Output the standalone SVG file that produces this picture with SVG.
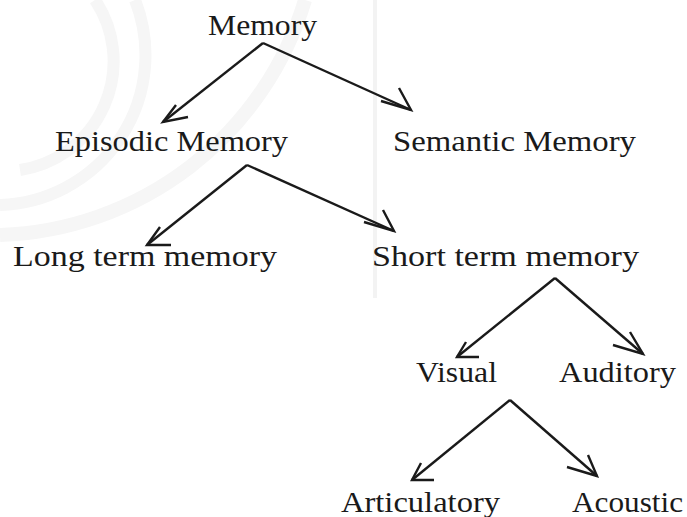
<svg xmlns="http://www.w3.org/2000/svg" width="687" height="517" viewBox="0 0 687 517">
  <style>
    .label { font-family: "Liberation Serif", "Times New Roman", serif; font-size: 29px; fill: #1a1a1a; }
    .edge { fill: none; stroke: #1a1a1a; stroke-width: 2.4; stroke-linecap: butt; stroke-linejoin: miter; }
    .mark { fill: none; stroke: #f6f6f6; }
  </style>

  <rect width="687" height="517" fill="#ffffff"/>

  <!-- faint background emblem and rule -->
  <g id="background">
    <path class="mark" stroke-width="12" d="M95,0 A110,110 0 0 1 20,170"/>
    <path class="mark" stroke-width="12" d="M135,0 A150,150 0 0 1 0,205"/>
    <path class="mark" stroke-width="14" d="M305,0 A330,330 0 0 1 0,235"/>
    <rect x="373" y="0" width="4" height="298" fill="#f3f3f3"/>
  </g>

  <g id="connectors">
    <!-- Memory -> Episodic Memory -->
    <path class="edge" d="M263,43 L163,122"/>
    <path class="edge" d="M176,105 L163,122 L188,117"/>
    <!-- Memory -> Semantic Memory -->
    <path class="edge" d="M263,43 L411,110"/>
    <path class="edge" d="M399,88 L411,110 L381,101"/>
    <!-- Episodic Memory -> Long term memory -->
    <path class="edge" d="M247,165 L147,245"/>
    <path class="edge" d="M160,227 L147,245 L171,245"/>
    <!-- Episodic Memory -> Short term memory -->
    <path class="edge" d="M247,165 L394,231"/>
    <path class="edge" d="M383,210 L394,231 L364,222"/>
    <!-- Short term memory -> Visual -->
    <path class="edge" d="M555,278 L457,357"/>
    <path class="edge" d="M466,342 L457,357 L479,357"/>
    <!-- Short term memory -> Auditory -->
    <path class="edge" d="M555,278 L643,354"/>
    <path class="edge" d="M630,332 L643,354 L613,345"/>
    <!-- Visual -> Articulatory -->
    <path class="edge" d="M510,400 L412,480"/>
    <path class="edge" d="M421,463 L412,480 L434,480"/>
    <!-- Visual -> Acoustic -->
    <path class="edge" d="M510,400 L597,476"/>
    <path class="edge" d="M588,455 L597,476 L567,467"/>
  </g>

  <g id="memory"><text class="label" x="208" y="35" textLength="109" lengthAdjust="spacingAndGlyphs">Memory</text></g>
  <g id="episodic"><text class="label" x="55" y="151" textLength="233" lengthAdjust="spacingAndGlyphs">Episodic Memory</text></g>
  <g id="semantic"><text class="label" x="393" y="151" textLength="243" lengthAdjust="spacingAndGlyphs">Semantic Memory</text></g>
  <g id="long-term"><text class="label" x="13" y="266" textLength="264" lengthAdjust="spacingAndGlyphs">Long term memory</text></g>
  <g id="short-term"><text class="label" x="372" y="266" textLength="267" lengthAdjust="spacingAndGlyphs">Short term memory</text></g>
  <g id="visual"><text class="label" x="416" y="382" textLength="81" lengthAdjust="spacingAndGlyphs">Visual</text></g>
  <g id="auditory"><text class="label" x="559" y="382" textLength="117" lengthAdjust="spacingAndGlyphs">Auditory</text></g>
  <g id="articulatory"><text class="label" x="341" y="512" textLength="159" lengthAdjust="spacingAndGlyphs">Articulatory</text></g>
  <g id="acoustic"><text class="label" x="572" y="512" textLength="111" lengthAdjust="spacingAndGlyphs">Acoustic</text></g>
</svg>
